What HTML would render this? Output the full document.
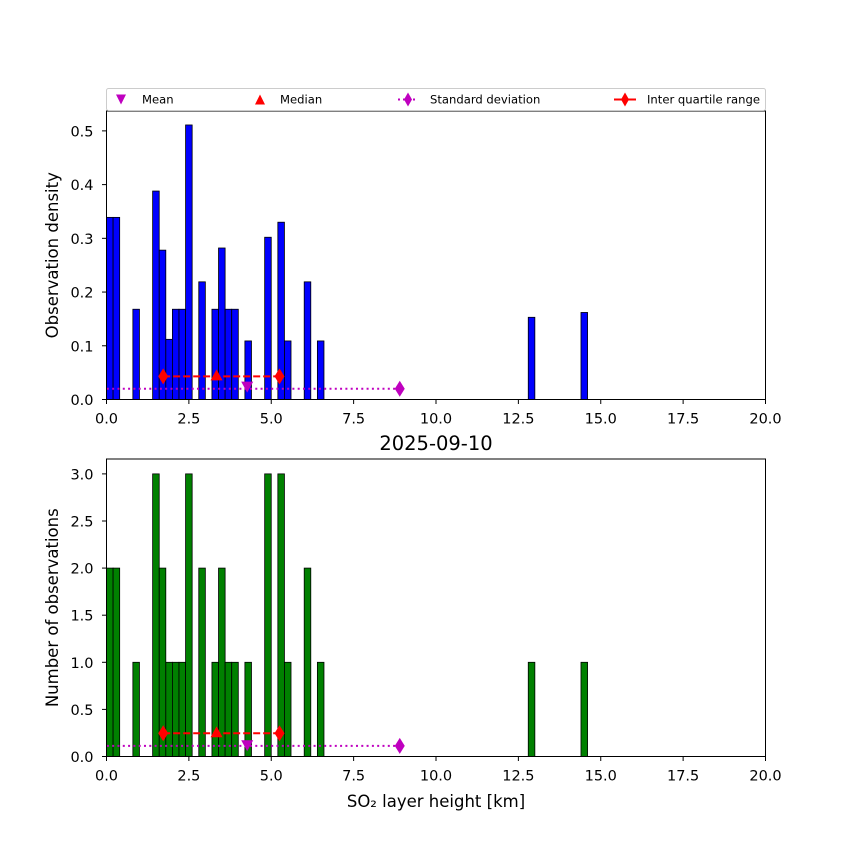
<!DOCTYPE html>
<html><head><meta charset="utf-8"><style>
html,body{margin:0;padding:0;background:#fff;}
svg{display:block;font-family:"DejaVu Sans","Liberation Sans",sans-serif;}
</style></head><body>
<svg id="fig" width="850" height="850" viewBox="0 0 850 850"></svg>
<script>
const binStarts = [0.0,0.2,0.8,1.4,1.6,1.8,2.0,2.2,2.4,2.8,3.2,3.4,3.6,3.8,4.2,4.8,5.2,5.4,6.0,6.4,12.8,14.4];
const densityValues = [0.339,0.339,0.168,0.388,0.278,0.112,0.168,0.168,0.511,0.219,0.168,0.282,0.168,0.168,0.109,0.302,0.330,0.109,0.219,0.109,0.153,0.162];
const countValues = [2,2,1,3,2,1,1,1,3,2,1,2,1,1,1,3,3,1,2,1,1,1];
const binWidth = 0.2;
const xTicks = [0,2.5,5,7.5,10,12.5,15,17.5,20];
const topYTicks = [0,0.1,0.2,0.3,0.4,0.5];
const botYTicks = [0,0.5,1,1.5,2,2.5,3];
const statMean = 4.27, statMedian = 3.34, statQ1 = 1.72, statQ3 = 5.25, statStdLo = -0.31, statStdHi = 8.90;
const topStatY = {mean:0.024, iqr:0.043, std:0.020};
const botStatY = {mean:0.12, iqr:0.247, std:0.113};

const NS="http://www.w3.org/2000/svg";
const svg=document.getElementById('fig');
function mk(tag,attrs,parent){const e=document.createElementNS(NS,tag);for(const k in attrs)e.setAttribute(k,attrs[k]);(parent||svg).appendChild(e);return e;}
const X0=106.5,X1=765.5;
function xs(v){return X0+(v/20)*(X1-X0);}

function drawAxes(cfg){
  const ys=v=>cfg.y0-(v/cfg.ymax)*(cfg.y0-cfg.y1);
  const g=mk('g',{});
  
  
  const defs=mk('clipPath',{id:cfg.name+'-clip'},g);
  mk('rect',{x:X0,y:cfg.y1,width:X1-X0,height:cfg.y0-cfg.y1},defs);
  const bars=mk('g',{'clip-path':'url(#'+cfg.name+'-clip)'},g);
  cfg.vals.forEach((v,i)=>{
    const xa=xs(binStarts[i]),xb=xs(binStarts[i]+binWidth);
    const r=mk('rect',{x:xa,y:ys(v),width:xb-xa,height:ys(0)-ys(v),fill:cfg.color,stroke:'#000','stroke-width':0.8},bars);
    
    
  });
  const st=cfg.stat;
  const sl=mk('line',{x1:xs(statStdLo),x2:xs(statStdHi),y1:ys(st.std),y2:ys(st.std),stroke:'#bf00bf','stroke-width':2,'stroke-dasharray':'2,3.3'},bars);
  
  [statStdLo,statStdHi].forEach(v=>{const d=mk('path',{d:`M${xs(v)},${ys(st.std)-8} L${xs(v)+5},${ys(st.std)} L${xs(v)},${ys(st.std)+8} L${xs(v)-5},${ys(st.std)} Z`,fill:'#bf00bf'},bars);});
  const il=mk('line',{x1:xs(statQ1),x2:xs(statQ3),y1:ys(st.iqr),y2:ys(st.iqr),stroke:'#ff0000','stroke-width':2,'stroke-dasharray':'7,3'},bars);
  
  [statQ1,statQ3].forEach(v=>{const d=mk('path',{d:`M${xs(v)},${ys(st.iqr)-8} L${xs(v)+5},${ys(st.iqr)} L${xs(v)},${ys(st.iqr)+8} L${xs(v)-5},${ys(st.iqr)} Z`,fill:'#ff0000'},bars);});
  const mx=xs(statMedian),my=ys(st.iqr);
  const med=mk('path',{d:`M${mx},${my-7} L${mx+6},${my+4} L${mx-6},${my+4} Z`,fill:'#ff0000'},bars);
  
  const ex=xs(statMean),ey=ys(st.mean);
  const mean=mk('path',{d:`M${ex-6},${ey-5} L${ex+6},${ey-5} L${ex},${ey+6} Z`,fill:'#bf00bf'},bars);
  
  mk('rect',{x:X0,y:cfg.y1,width:X1-X0,height:cfg.y0-cfg.y1,fill:'none',stroke:'#000','stroke-width':1},g);
  xTicks.forEach(t=>{
    mk('line',{x1:xs(t),x2:xs(t),y1:cfg.y0,y2:cfg.y0+4.5,stroke:'#000'},g);
    const tx=mk('text',{x:xs(t),y:cfg.y0+24,'text-anchor':'middle','font-size':14.5,fill:'#000'},g);
    tx.textContent=t.toFixed(1);
    
  });
  cfg.yticks.forEach(t=>{
    mk('line',{x1:X0-4.5,x2:X0,y1:ys(t),y2:ys(t),stroke:'#000'},g);
    const tx=mk('text',{x:X0-13,y:ys(t)+5.5,'text-anchor':'end','font-size':14.5,fill:'#000'},g);
    tx.textContent=t.toFixed(1);
    
  });
  const yl=mk('text',{x:0,y:0,transform:`translate(58,${(cfg.y0+cfg.y1)/2}) rotate(-90)`,'text-anchor':'middle','font-size':16.5,fill:'#000'},g);
  yl.textContent=cfg.ylabel;
  
}
drawAxes({name:'density-chart',y0:399.5,y1:111,ymax:0.537,vals:densityValues,color:'#0000ff',yticks:topYTicks,ylabel:'Observation density',stat:topStatY});
drawAxes({name:'count-chart',y0:756.5,y1:459,ymax:3.158,vals:countValues,color:'#008000',yticks:botYTicks,ylabel:'Number of observations',stat:botStatY});

const title=mk('text',{x:436,y:450,'text-anchor':'middle','font-size':19.5,fill:'#000'});
title.textContent='2025-09-10';

const xl=mk('text',{x:436,y:807,'text-anchor':'middle','font-size':16.5,fill:'#000'});
xl.textContent='SO₂ layer height [km]';


const lg=mk('g',{});

mk('rect',{x:106.5,y:88.5,width:659,height:22,rx:2,fill:'#fff',stroke:'#ccc'},lg);
const ly=99.5;
let e;
e=mk('path',{d:`M116,${ly-5} L126,${ly-5} L121,${ly+5} Z`,fill:'#bf00bf'},lg);

e=mk('path',{d:`M255,${ly+5} L265,${ly+5} L260,${ly-5} Z`,fill:'#ff0000'},lg);

mk('line',{x1:398,x2:418,y1:ly,y2:ly,stroke:'#bf00bf','stroke-width':2,'stroke-dasharray':'2,3'},lg);
mk('path',{d:`M408,${ly-7} L412,${ly} L408,${ly+7} L404,${ly} Z`,fill:'#bf00bf'},lg);
mk('line',{x1:614,x2:636,y1:ly,y2:ly,stroke:'#ff0000','stroke-width':2},lg);
mk('path',{d:`M625,${ly-7} L629,${ly} L625,${ly+7} L621,${ly} Z`,fill:'#ff0000'},lg);
[['Mean',142],['Median',280],['Standard deviation',430],['Inter quartile range',647]].forEach(([t,x])=>{
  const tx=mk('text',{x:x,y:ly+4,'font-size':11.6,fill:'#000'},lg);
  tx.textContent=t;
  
});
</script>
</body></html>
